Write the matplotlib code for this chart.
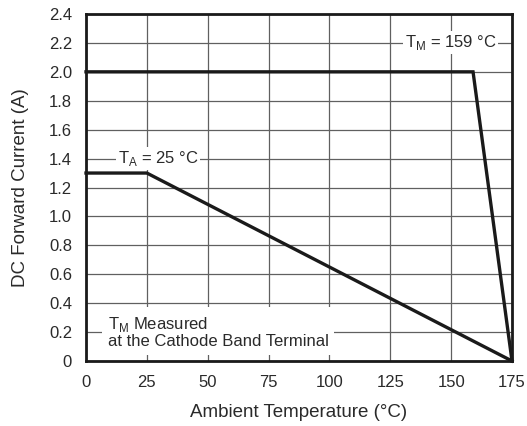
import matplotlib
matplotlib.use("Agg")
import matplotlib.pyplot as plt

plt.rcParams['font.family'] = ['Liberation Sans', 'DejaVu Sans']

# Data
tm_x = [0, 159, 175]
tm_y = [2.0, 2.0, 0.0]
ta_x = [0, 25, 175]
ta_y = [1.3, 1.3, 0.0]
x_ticks = [0, 25, 50, 75, 100, 125, 150, 175]
y_ticks = [0, 0.2, 0.4, 0.6, 0.8, 1.0, 1.2, 1.4, 1.6, 1.8, 2.0, 2.2, 2.4]
y_labels = ['0', '0.2', '0.4', '0.6', '0.8', '1.0', '1.2', '1.4', '1.6', '1.8', '2.0', '2.2', '2.4']

txt = '#2a2a2a'
fig = plt.figure(figsize=(5.27, 4.26), dpi=100)
ax = fig.add_axes([86/527, 1-361/426, (512-86)/527, (361-14)/426])

ax.set_xlim(0, 175)
ax.set_ylim(0, 2.4)
ax.set_xticks(x_ticks)
ax.set_yticks(y_ticks)
ax.set_yticklabels(y_labels)
ax.grid(True, color='#606060', linewidth=0.9)
ax.set_axisbelow(True)
ax.tick_params(length=0, labelsize=12, labelcolor=txt)
ax.tick_params(axis='y', pad=10)
ax.tick_params(axis='x', pad=10)
for s in ax.spines.values():
    s.set_linewidth(2)
    s.set_color('#1a1a1a')

ax.plot(tm_x, tm_y, color='#1a1a1a', linewidth=2.4, solid_joinstyle='miter', clip_on=False, zorder=3)
ax.plot(ta_x, ta_y, color='#1a1a1a', linewidth=2.4, solid_joinstyle='miter', clip_on=False, zorder=3)

bbox = dict(facecolor='white', edgecolor='none', pad=1.5)
ax.text(29.6, 1.4, r'T$_\mathregular{A}$ = 25 °C', ha='center', va='center', fontsize=12,
        color=txt, bbox=bbox, zorder=4)
ax.text(149.8, 2.2, r'T$_\mathregular{M}$ = 159 °C', ha='center', va='center', fontsize=12,
        color=txt, bbox=bbox, zorder=4)
ax.text(9, 0.2, 'T$_\\mathregular{M}$ Measured\nat the Cathode Band Terminal', ha='left', va='center',
        fontsize=12, color=txt, linespacing=1.05,
        bbox=dict(facecolor='white', edgecolor='none', pad=4), zorder=4)

ax.set_xlabel('Ambient Temperature (°C)', fontsize=13.5, color=txt)
ax.set_ylabel('DC Forward Current (A)', fontsize=13.5, color=txt)
ax.xaxis.set_label_coords(0.5, -0.125)
ax.yaxis.set_label_coords(-0.134, 0.5)

fig.savefig('out.png', dpi=100)
